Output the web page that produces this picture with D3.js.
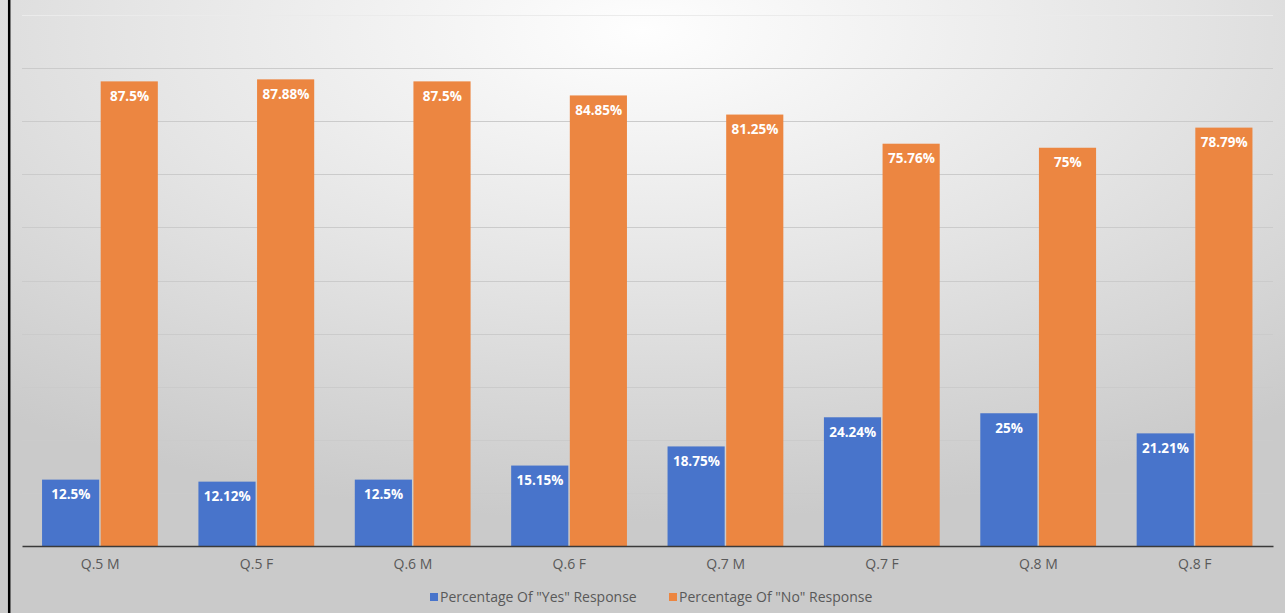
<!DOCTYPE html>
<html>
<head>
<meta charset="utf-8">
<script src="https://cdn.jsdelivr.net/npm/d3@7"></script>
<style>
  html, body { margin: 0; padding: 0; background: #fff; }
  svg { display: block; }
</style>
</head>
<body>
<svg id="chart" width="1285" height="613"></svg>
<script>
// Survey answers per question and gender
const categories = ["Q.5 M", "Q.5 F", "Q.6 M", "Q.6 F", "Q.7 M", "Q.7 F", "Q.8 M", "Q.8 F"];
const yesValues = [12.5, 12.12, 12.5, 15.15, 18.75, 24.24, 25, 21.21];
const noValues = [87.5, 87.88, 87.5, 84.85, 81.25, 75.76, 75, 78.79];
const seriesNames = ['Percentage Of "Yes" Response', 'Percentage Of "No" Response'];
const gridTicks = [10, 20, 30, 40, 50, 60, 70, 80, 90, 100];

const W = 1285, H = 613;
const margin = { left: 22, right: 12, top: 15, bottom: 67 };
const colors = ["#4874cb", "#ec8641"];
const font = "'Open Sans', 'Liberation Sans', sans-serif";

const svg = d3.select("#chart");

// Soft radial backdrop
const defs = svg.append("defs");
const grad = defs.append("radialGradient")
  .attr("id", "bg").attr("cx", "0.5").attr("cy", "0.05").attr("r", "0.8");
grad.append("stop").attr("offset", "0").attr("stop-color", "#fefefe");
grad.append("stop").attr("offset", "0.5").attr("stop-color", "#e5e5e5");
grad.append("stop").attr("offset", "1").attr("stop-color", "#cacaca");
svg.append("rect").attr("width", W).attr("height", H).attr("fill", "url(#bg)");

// Left frame edge
svg.append("line").attr("x1", 9.2).attr("x2", 9.2).attr("y1", 0).attr("y2", H)
  .attr("stroke", "#000").attr("stroke-width", 2.5);

const x0 = d3.scaleBand().domain(categories)
  .range([margin.left, W - margin.right]).paddingInner(0.25).paddingOuter(0.125);
const x1 = d3.scaleBand().domain([0, 1]).range([0, x0.bandwidth()]);
const y = d3.scaleLinear().domain([0, 100]).range([H - margin.bottom, margin.top]);

// Horizontal gridlines
svg.append("g").selectAll("line").data(gridTicks).join("line")
  .attr("x1", margin.left).attr("x2", W - margin.right)
  .attr("y1", d => Math.round(y(d)) + 0.5).attr("y2", d => Math.round(y(d)) + 0.5)
  .attr("stroke", d => d === 100 ? "#ebebeb" : "#cbcbcb").attr("stroke-width", 1.2);

const rows = categories.map((c, i) => ({ cat: c, vals: [yesValues[i], noValues[i]] }));

const groups = svg.append("g").selectAll("g").data(rows).join("g")
  .attr("transform", d => `translate(${x0(d.cat)},0)`);

groups.selectAll("rect").data(d => d.vals.map((v, s) => ({ v, s }))).join("rect")
  .attr("x", d => x1(d.s) + 0.5).attr("width", x1.bandwidth() - 1.5)
  .attr("y", d => y(d.v)).attr("height", d => y(0) - y(d.v))
  .attr("fill", d => colors[d.s]);

groups.selectAll("text").data(d => d.vals.map((v, s) => ({ v, s }))).join("text")
  .attr("x", d => x1(d.s) + x1.bandwidth() / 2)
  .attr("y", d => y(d.v) + 19.5)
  .attr("text-anchor", "middle")
  .attr("font-family", font).attr("font-size", 13.5).attr("font-weight", "bold")
  .attr("fill", "#ffffff")
  .text(d => d.v + "%");

// Category axis
const xAxis = svg.append("g").attr("transform", `translate(0,${y(0)})`)
  .call(d3.axisBottom(x0).tickSize(0).tickPadding(13));
xAxis.select(".domain").attr("stroke", "#3a3a3a").attr("stroke-width", 1.5);
xAxis.selectAll("text").attr("font-family", font).attr("font-size", 14).attr("fill", "#595959");

// Legend
const legendItems = [
  { name: seriesNames[0], color: colors[0], x: 430 },
  { name: seriesNames[1], color: colors[1], x: 669 }
];
const lg = svg.append("g").selectAll("g").data(legendItems).join("g")
  .attr("transform", d => `translate(${d.x},597)`);
lg.append("rect").attr("x", 0).attr("y", -4).attr("width", 8).attr("height", 8)
  .attr("fill", d => d.color);
lg.append("text").attr("x", 10).attr("y", 0).attr("dy", "0.35em")
  .attr("font-family", font).attr("font-size", 14).attr("fill", "#595959")
  .text(d => d.name);
</script>
</body>
</html>
